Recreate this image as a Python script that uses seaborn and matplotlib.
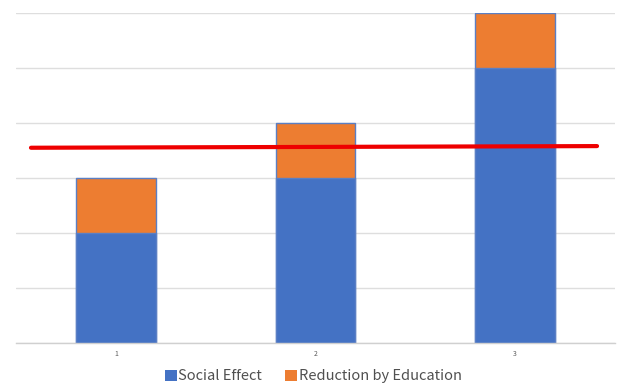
import numpy as np
import pandas as pd
import matplotlib
matplotlib.use('Agg')
import matplotlib.pyplot as plt
import seaborn as sns
from matplotlib.patches import Patch

# Chart data
categories = ['1', '2', '3']
social_effect = [2, 3, 5]
reduction_by_education = [1, 1, 1]

# red reference line (x in category units, y in value units)
line_x = [-0.425, 2.41]
line_y = [3.55, 3.58]

blue = '#4472C4'
orange = '#ED7D31'

sns.set_theme(style='white')
plt.rcParams['font.family'] = ['Noto Sans CJK JP', 'DejaVu Sans']

df = pd.DataFrame({
    'category': categories,
    'social': social_effect,
    'reduction': reduction_by_education,
})
df['total'] = df['social'] + df['reduction']

fig = plt.figure(figsize=(6.18, 3.83), dpi=100)
ax = fig.add_axes([16 / 618, 40 / 383, 599 / 618, 330 / 383])

# stacked bars: total (orange) first, blue drawn on top
sns.barplot(data=df, x='category', y='total', color=orange, width=0.4,
            saturation=1, edgecolor='#5b7fc4', linewidth=1, ax=ax)
sns.barplot(data=df, x='category', y='social', color=blue, width=0.4,
            saturation=1, edgecolor='#5b7fc4', linewidth=1, ax=ax)

sns.lineplot(x=line_x, y=line_y, color='#ee0000', linewidth=3, ax=ax, zorder=5)

ax.set_xlim(-0.5, 2.5)
ax.set_ylim(0, 6)
ax.set_yticks(np.arange(0, 7, 1))
ax.set_yticklabels([])
ax.yaxis.grid(True, color='#dedede', linewidth=1)
ax.set_axisbelow(True)
ax.tick_params(axis='x', length=0, pad=5, labelsize=5, labelcolor='#595959')
ax.tick_params(axis='y', length=0)
ax.set_xlabel('')
ax.set_ylabel('')
for s in ['top', 'left', 'right']:
    ax.spines[s].set_visible(False)
ax.spines['bottom'].set_color('#d0d0d0')
ax.spines['bottom'].set_linewidth(1)

handles = [Patch(facecolor=blue, edgecolor='none', label='Social Effect'),
           Patch(facecolor=orange, edgecolor='none', label='Reduction by Education')]
fig.legend(handles=handles, loc='lower center', bbox_to_anchor=(0.507, -0.035),
           ncol=2, frameon=False, fontsize=10.5, labelcolor='#505050',
           handlelength=0.8, handleheight=0.8, handletextpad=0.1, columnspacing=1.6)

fig.savefig('out.png', dpi=100)
